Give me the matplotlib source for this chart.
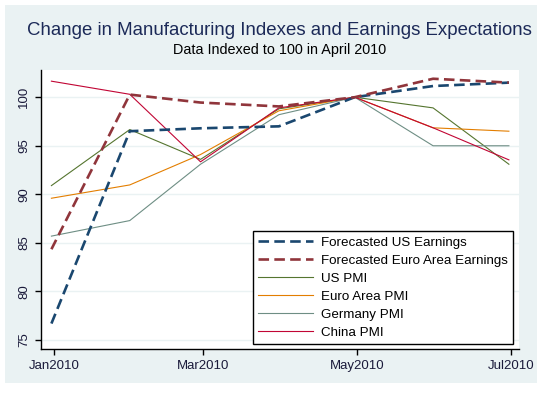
import datetime as dt
import matplotlib
matplotlib.use("Agg")
import matplotlib.pyplot as plt
import matplotlib.patches as mpatches

plt.rcParams.update({
    "font.family": ["Liberation Sans", "DejaVu Sans"],
})

# month-end observation dates
dates = [dt.date(2009, 12, 31), dt.date(2010, 1, 31), dt.date(2010, 2, 28),
         dt.date(2010, 3, 31), dt.date(2010, 4, 30), dt.date(2010, 5, 31),
         dt.date(2010, 6, 30)]

us_earn = [76.7, 96.5, 96.8, 97.0, 100.0, 101.15, 101.5]
euro_earn = [84.35, 100.27, 99.45, 99.05, 100.0, 101.9, 101.5]
us_pmi = [90.9, 96.67, 93.6, 98.8, 100.0, 98.9, 93.1]
euro_pmi = [89.6, 90.97, 94.1, 98.6, 100.0, 96.85, 96.5]
germany_pmi = [85.7, 87.3, 93.1, 98.2, 100.0, 95.0, 95.0]
china_pmi = [101.65, 100.3, 93.35, 98.9, 100.0, 96.85, 93.55]

tick_dates = [dt.date(2010, 1, 1), dt.date(2010, 3, 1), dt.date(2010, 5, 1), dt.date(2010, 7, 1)]
tick_labels = ["Jan2010", "Mar2010", "May2010", "Jul2010"]
y_ticks = [75, 80, 85, 90, 95, 100]

NAVY = "#1a476f"
MAROON = "#90353b"
FOREST = "#55752f"
ORANGE = "#e37e00"
TEAL = "#6e8e84"
CRANBERRY = "#c10534"
BLUEGRAY = "#eaf2f3"

W, H = 537, 393
fig = plt.figure(figsize=(W / 100, H / 100), dpi=100)
fig.patch.set_facecolor("white")
fig.patches.append(mpatches.Rectangle((5 / W, 10 / H), 1, 378 / H, transform=fig.transFigure,
                                      facecolor=BLUEGRAY, edgecolor="none", zorder=-5))

ax = fig.add_axes([41.3 / W, (H - 349.3) / H, (519 - 41.3) / W, (349.3 - 70) / H])
ax.set_facecolor("white")

dash = (0, (4, 2))
ax.plot(dates, us_earn, color=NAVY, lw=1.9, linestyle=dash, label="Forecasted US Earnings", zorder=3)
ax.plot(dates, euro_earn, color=MAROON, lw=1.9, linestyle=dash, label="Forecasted Euro Area Earnings", zorder=3)
ax.plot(dates, us_pmi, color=FOREST, lw=0.8, label="US PMI")
ax.plot(dates, euro_pmi, color=ORANGE, lw=0.8, label="Euro Area PMI")
ax.plot(dates, germany_pmi, color=TEAL, lw=0.8, label="Germany PMI")
ax.plot(dates, china_pmi, color=CRANBERRY, lw=0.8, label="China PMI")

ax.set_xlim(dt.date(2009, 12, 27) + dt.timedelta(hours=15), dt.date(2010, 7, 4) + dt.timedelta(hours=14))
ax.set_ylim(74.05, 102.8)
ax.set_xticks(tick_dates)
ax.set_xticklabels(tick_labels)
ax.set_yticks(y_ticks)
ax.set_yticklabels([str(v) for v in y_ticks], rotation=90, va="center")
ax.grid(axis="y", color=BLUEGRAY, lw=1.0, zorder=0)
ax.set_axisbelow(True)

for s in ["top", "right"]:
    ax.spines[s].set_visible(False)
for s in ["left", "bottom"]:
    ax.spines[s].set_linewidth(1.0)
    ax.spines[s].set_color("black")
ax.tick_params(axis="both", length=4, width=1.0, labelsize=9.5, colors="black")
ax.tick_params(axis="x", pad=4)
ax.tick_params(axis="y", pad=4)
for lab in ax.get_xticklabels() + ax.get_yticklabels():
    lab.set_color("#1a1a3a")

leg = ax.legend(loc="lower right", bbox_to_anchor=(513 / W, (H - 344) / H),
                bbox_transform=fig.transFigure, fontsize=9.6, frameon=True, fancybox=False,
                handlelength=4.1, handletextpad=0.6, labelspacing=0.42, borderpad=0.4,
                borderaxespad=0)
leg.get_frame().set_edgecolor("black")
leg.get_frame().set_linewidth(1.0)
leg.get_frame().set_alpha(1)

fig.text(0.5 * (29 + 530) / W, (H - 35) / H, "Change in Manufacturing Indexes and Earnings Expectations",
         ha="center", va="baseline", fontsize=13.4, color="#1c2a58")
fig.text(0.5 * (171.7 + 388.3) / W, (H - 54.3) / H, "Data Indexed to 100 in April 2010",
         ha="center", va="baseline", fontsize=10.4, color="black")

fig.savefig("out.png", dpi=100, facecolor=fig.get_facecolor())
